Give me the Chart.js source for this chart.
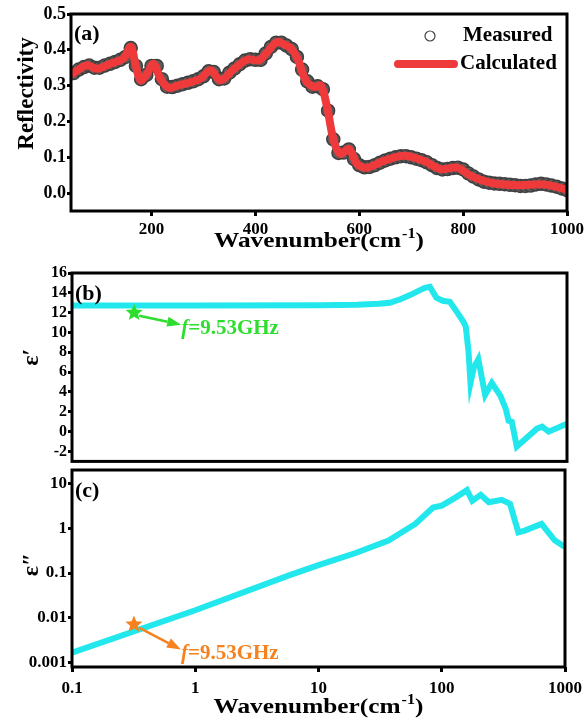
<!DOCTYPE html>
<html>
<head>
<meta charset="utf-8">
<script src="https://cdn.jsdelivr.net/npm/chart.js@4.4.1/dist/chart.umd.min.js"></script>
<style>
  body { margin: 0; background: #fff; }
  #wrap { position: relative; width: 588px; height: 726px; }
  canvas { position: absolute; left: 0; }
</style>
</head>
<body>
<div id="wrap">
  <canvas id="chartA" width="588" height="258" style="top:0px"></canvas>
  <canvas id="chartB" width="588" height="214" style="top:258px"></canvas>
  <canvas id="chartC" width="588" height="268" style="top:458px"></canvas>
</div>
<script>
// (a) reflectivity spectrum
var measuredX = [50, 60, 70, 80, 90, 100, 110, 120, 130, 140, 150, 160, 170, 180, 190, 200,
  210, 220, 230, 240, 250, 260, 270, 280, 290, 300, 310, 320, 330, 340, 350, 360, 370, 380,
  390, 400, 410, 420, 430, 440, 450, 460, 470, 480, 490, 500, 510, 520, 530, 540, 550, 560,
  570, 580, 590, 600, 610, 620, 630, 640, 650, 660, 670, 680, 690, 700, 710, 720, 730, 740,
  750, 760, 770, 780, 790, 800, 810, 820, 830, 840, 850, 860, 870, 880, 890, 900, 910, 920,
  930, 940, 950, 960, 970, 980, 990, 1000];
var measuredY = [0.335, 0.345, 0.352, 0.356, 0.350, 0.350, 0.356, 0.361, 0.366, 0.372, 0.380,
  0.405, 0.355, 0.318, 0.330, 0.355, 0.355, 0.318, 0.297, 0.296, 0.300, 0.304, 0.308, 0.312,
  0.318, 0.326, 0.340, 0.338, 0.318, 0.320, 0.336, 0.348, 0.360, 0.370, 0.374, 0.372, 0.372,
  0.390, 0.408, 0.420, 0.420, 0.412, 0.402, 0.380, 0.345, 0.312, 0.297, 0.298, 0.290, 0.230,
  0.150, 0.112, 0.113, 0.122, 0.095, 0.078, 0.072, 0.073, 0.078, 0.085, 0.091, 0.096, 0.100,
  0.103, 0.103, 0.100, 0.096, 0.092, 0.086, 0.078, 0.070, 0.066, 0.067, 0.070, 0.071, 0.066,
  0.055, 0.046, 0.038, 0.032, 0.029, 0.027, 0.026, 0.025, 0.023, 0.022, 0.020, 0.020, 0.021,
  0.024, 0.026, 0.024, 0.021, 0.018, 0.013, 0.008];
var calcX = [45, 60, 76, 95, 121, 146, 160, 169, 179, 190, 204, 217, 233, 250, 269, 294, 314,
  333, 359, 385, 407, 423, 442, 455, 468, 481, 497, 513, 526, 538, 551, 564, 580, 596, 615,
  647, 686, 724, 757, 789, 815, 853, 905, 956, 1000];
var calcY = [0.33, 0.345, 0.357, 0.347, 0.361, 0.376, 0.408, 0.36, 0.315, 0.33, 0.361, 0.32,
  0.294, 0.30, 0.307, 0.319, 0.343, 0.315, 0.347, 0.373, 0.371, 0.394, 0.422, 0.415, 0.405,
  0.376, 0.315, 0.296, 0.30, 0.24, 0.146, 0.109, 0.123, 0.081, 0.071, 0.09, 0.104, 0.09,
  0.067, 0.071, 0.048, 0.029, 0.022, 0.024, 0.01];
var reflTicks = [0.0, 0.1, 0.2, 0.3, 0.4, 0.5];
var waveTicks = [200, 400, 600, 800, 1000];

// (b) real permittivity
var epsRealX = [0.1, 1, 10, 20, 30, 37, 45, 54.5, 63, 71, 78, 88, 99, 113, 130, 146, 152, 160,
  166, 177, 192, 218, 247, 290, 320, 337, 358, 393, 446, 572, 630, 711, 1000];
var epsRealY = [12.72, 12.72, 12.74, 12.8, 12.9, 13.0, 13.35, 13.8, 14.2, 14.5, 14.6, 13.5,
  13.2, 13.1, 12.0, 11.05, 10.6, 8.1, 4.9, 6.5, 7.3, 3.7, 4.9, 3.6, 2.3, 1.1, 1.0, -1.5, -0.9,
  0.3, 0.5, 0.0, 0.8];
var epsRealTicks = [-2, 0, 2, 4, 6, 8, 10, 12, 14, 16];

// (c) imaginary permittivity
var epsImagX = [0.1, 1, 5.76, 10, 20, 37, 61, 85, 100, 130, 160, 177, 207, 241, 307, 358, 418,
  471, 645, 825, 1000];
var epsImagY = [0.00167, 0.0148, 0.089, 0.15, 0.28, 0.53, 1.25, 2.9, 3.2, 4.9, 7.1, 4.1, 5.6,
  3.8, 4.3, 3.5, 0.81, 0.89, 1.25, 0.54, 0.38];
var epsImagTicks = [0.001, 0.01, 0.1, 1, 10];
var logWaveTicks = [0.1, 1, 10, 100, 1000];

// 9.53 GHz expressed in wavenumber
var markFreq = 0.318;
var markReal = 12.0;
var markImag = 0.0071;

var FONT = '"Liberation Serif", "Times New Roman", serif';
Chart.defaults.font.family = FONT;
Chart.defaults.font.weight = 'bold';
Chart.defaults.color = '#000';

function pts(xs, ys) {
  return xs.map(function(x, i) { return { x: x, y: ys[i] }; });
}

function fixTicks(list) {
  return function(scale) {
    scale.ticks = list.map(function(v) { return { value: v }; });
  };
}

function drawStar(ctx, cx, cy, r, color) {
  ctx.beginPath();
  for (var i = 0; i < 10; i++) {
    var rr = i % 2 === 0 ? r : r * 0.45;
    var ang = -Math.PI / 2 + i * Math.PI / 5;
    var px = cx + rr * Math.cos(ang), py = cy + rr * Math.sin(ang);
    if (i === 0) ctx.moveTo(px, py); else ctx.lineTo(px, py);
  }
  ctx.closePath();
  ctx.fillStyle = color;
  ctx.fill();
}

function drawArrow(ctx, x0, y0, x1, y1, color) {
  var ang = Math.atan2(y1 - y0, x1 - x0);
  var hl = 14, hw = 5;
  var bx = x1 - hl * Math.cos(ang), by = y1 - hl * Math.sin(ang);
  ctx.strokeStyle = color;
  ctx.lineWidth = 2.5;
  ctx.beginPath();
  ctx.moveTo(x0, y0);
  ctx.lineTo(bx, by);
  ctx.stroke();
  ctx.beginPath();
  ctx.moveTo(x1, y1);
  ctx.lineTo(bx + hw * Math.sin(ang), by - hw * Math.cos(ang));
  ctx.lineTo(bx - hw * Math.sin(ang), by + hw * Math.cos(ang));
  ctx.closePath();
  ctx.fillStyle = color;
  ctx.fill();
}

// frame, panel letter, axis titles, legend and frequency marker
var panelDeco = {
  id: 'panelDeco',
  afterDraw: function(chart, args, opts) {
    var ctx = chart.ctx, a = chart.chartArea;
    ctx.save();
    ctx.strokeStyle = '#000';
    ctx.lineWidth = 3;
    ctx.strokeRect(a.left, a.top, a.right - a.left, a.bottom - a.top);

    ctx.fillStyle = '#000';
    ctx.textBaseline = 'alphabetic';
    ctx.textAlign = 'left';
    ctx.font = 'bold 22px ' + FONT;
    ctx.fillText(opts.label, a.left + 3, a.top + opts.labelDy);

    if (opts.yTitle) {
      var t = opts.yTitle;
      ctx.save();
      ctx.translate(t.x, (a.top + a.bottom) / 2 + t.dy);
      ctx.rotate(-Math.PI / 2);
      ctx.textAlign = 'center';
      ctx.textBaseline = 'middle';
      ctx.font = 'bold ' + t.size + 'px ' + FONT;
      ctx.fillText(t.text, 0, 0);
      ctx.restore();
    }

    if (opts.xTitleY) {
      var main = 'Wavenumber(cm', sup = '-1', end = ')';
      ctx.font = 'bold 22px ' + FONT;
      var w1 = ctx.measureText(main).width, w3 = ctx.measureText(end).width;
      ctx.font = 'bold 14px ' + FONT;
      var w2 = ctx.measureText(sup).width;
      var sx = 1.15;
      var total = (w1 + w2 + w3 + 1) * sx;
      var cx = (a.left + a.right) / 2 - total / 2;
      ctx.save();
      ctx.translate(cx, opts.xTitleY);
      ctx.scale(sx, 1);
      ctx.font = 'bold 22px ' + FONT;
      ctx.fillText(main, 0, 0);
      ctx.font = 'bold 14px ' + FONT;
      ctx.fillText(sup, w1 + 1, -9);
      ctx.font = 'bold 22px ' + FONT;
      ctx.fillText(end, w1 + w2 + 1, 0);
      ctx.restore();
    }

    if (opts.legend) {
      var lx = a.right - 107, ly = a.top + 22;
      ctx.beginPath();
      ctx.arc(lx - 30, ly, 5, 0, Math.PI * 2);
      ctx.fillStyle = '#fff';
      ctx.fill();
      ctx.lineWidth = 1.2;
      ctx.strokeStyle = '#444';
      ctx.stroke();
      ctx.strokeStyle = '#ee3a3a';
      ctx.lineWidth = 8;
      ctx.lineCap = 'round';
      ctx.beginPath();
      ctx.moveTo(lx - 62, ly + 28);
      ctx.lineTo(lx - 6, ly + 28);
      ctx.stroke();
      ctx.fillStyle = '#000';
      ctx.font = 'bold 21px ' + FONT;
      ctx.textBaseline = 'middle';
      ctx.fillText('Measured', lx + 3, ly);
      ctx.fillText('Calculated', lx, ly + 28);
      ctx.textBaseline = 'alphabetic';
    }

    if (opts.marker) {
      var m = opts.marker;
      var px = chart.scales.x.getPixelForValue(m.x);
      var py = chart.scales.y.getPixelForValue(m.y);
      var tx = px + 47, ty = py + m.dy;
      drawArrow(ctx, px + 5, py + 3, tx, ty, m.color);
      drawStar(ctx, px, py, 9, m.color);
      ctx.fillStyle = m.color;
      ctx.font = 'italic bold 21px ' + FONT;
      ctx.fillText('f', tx, ty + 9);
      var fw = ctx.measureText('f').width;
      ctx.font = 'bold 21px ' + FONT;
      ctx.fillText('=9.53GHz', tx + fw, ty + 9);
    }
    ctx.restore();
  }
};

function tickStyle(len) {
  return { drawOnChartArea: false, drawTicks: true, tickLength: len, tickWidth: 3, tickColor: '#000' };
}

var common = {
  responsive: false,
  devicePixelRatio: 1,
  animation: false,
  events: []
};

function plain(v) { return String(v); }

// chart (a)
new Chart(document.getElementById('chartA'), {
  type: 'scatter',
  data: {
    datasets: [
      {
        label: 'Measured',
        data: pts(measuredX, measuredY),
        pointStyle: 'circle',
        pointRadius: 6.5,
        pointBorderWidth: 1.5,
        pointBorderColor: '#3f3f3f',
        pointBackgroundColor: '#5c5c5c',
        showLine: false,
        order: 2
      },
      {
        label: 'Calculated',
        data: pts(calcX, calcY),
        showLine: true,
        borderColor: '#ee3a3a',
        borderWidth: 8,
        pointRadius: 0,
        tension: 0.35,
        order: 1
      }
    ]
  },
  options: Object.assign({}, common, {
    layout: { padding: { top: 14, right: 21, left: 0, bottom: 0 } },
    plugins: {
      legend: { display: false },
      tooltip: { enabled: false },
      panelDeco: { label: '(a)', labelDy: 26, xTitleY: 247, legend: true,
        yTitle: { text: 'Reflectivity', x: 27, dy: -19, size: 23 } }
    },
    scales: {
      x: {
        type: 'linear', min: 45, max: 1000,
        afterBuildTicks: fixTicks(waveTicks),
        afterFit: function(s) { s.height = 47; },
        grid: tickStyle(5),
        border: { display: false },
        ticks: { font: { size: 17, weight: 'bold' }, padding: 3, maxRotation: 0, autoSkip: false,
          callback: plain }
      },
      y: {
        min: -0.05, max: 0.5,
        afterBuildTicks: fixTicks(reflTicks),
        afterFit: function(s) { s.width = 71; },
        grid: tickStyle(4),
        border: { display: false },
        ticks: { font: { size: 18, weight: 'bold' }, padding: 1, autoSkip: false,
          callback: function(v) { return v.toFixed(1); } }
      }
    }
  }),
  plugins: [panelDeco]
});

// chart (b)
new Chart(document.getElementById('chartB'), {
  type: 'scatter',
  data: {
    datasets: [{
      data: pts(epsRealX, epsRealY),
      showLine: true,
      borderColor: '#22e8ee',
      borderWidth: 6,
      pointRadius: 0,
      tension: 0
    }]
  },
  options: Object.assign({}, common, {
    layout: { padding: { top: 15, right: 21, left: 0, bottom: 2 } },
    plugins: {
      legend: { display: false },
      tooltip: { enabled: false },
      panelDeco: { label: '(b)', labelDy: 27,
        yTitle: { text: 'ε′', x: 32, dy: -10, size: 24 },
        marker: { x: markFreq, y: markReal, dy: 12, color: '#2ede2e' } }
    },
    scales: {
      x: { type: 'logarithmic', min: 0.1, max: 1000, display: false },
      y: {
        min: -3, max: 16,
        afterBuildTicks: fixTicks(epsRealTicks),
        afterFit: function(s) { s.width = 72; },
        grid: tickStyle(4),
        border: { display: false },
        ticks: { font: { size: 16, weight: 'bold' }, padding: 1, autoSkip: false, callback: plain }
      }
    }
  }),
  plugins: [panelDeco]
});

// chart (c)
new Chart(document.getElementById('chartC'), {
  type: 'scatter',
  data: {
    datasets: [{
      data: pts(epsImagX, epsImagY),
      showLine: true,
      borderColor: '#22e8ee',
      borderWidth: 6,
      pointRadius: 0,
      tension: 0
    }]
  },
  options: Object.assign({}, common, {
    layout: { padding: { top: 12, right: 21, left: 0, bottom: 0 } },
    plugins: {
      legend: { display: false },
      tooltip: { enabled: false },
      panelDeco: { label: '(c)', labelDy: 27, xTitleY: 255,
        yTitle: { text: 'ε″', x: 32, dy: -4, size: 24 },
        marker: { x: markFreq, y: markImag, dy: 25, color: '#f5821f' } }
    },
    scales: {
      x: {
        type: 'logarithmic', min: 0.1, max: 1000,
        afterBuildTicks: fixTicks(logWaveTicks),
        afterFit: function(s) { s.height = 59; },
        grid: tickStyle(5),
        border: { display: false },
        ticks: { font: { size: 17, weight: 'bold' }, padding: 6, maxRotation: 0, autoSkip: false,
          callback: plain }
      },
      y: {
        type: 'logarithmic', min: 0.0008, max: 20,
        afterBuildTicks: fixTicks(epsImagTicks),
        afterFit: function(s) { s.width = 72; },
        grid: tickStyle(4),
        border: { display: false },
        ticks: { font: { size: 17, weight: 'bold' }, padding: 1, autoSkip: false, callback: plain }
      }
    }
  }),
  plugins: [panelDeco]
});
</script>
</body>
</html>
